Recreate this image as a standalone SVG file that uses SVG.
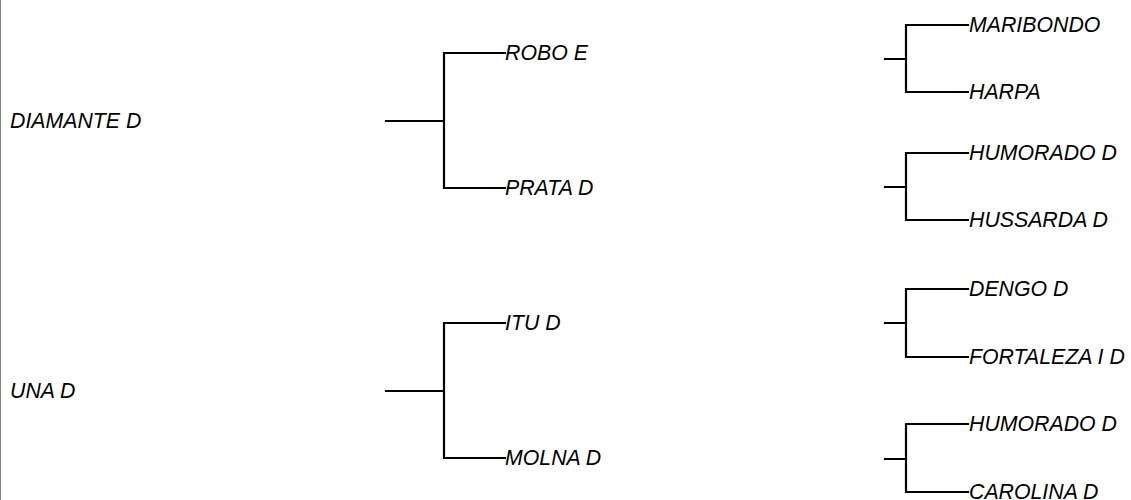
<svg xmlns="http://www.w3.org/2000/svg" width="1131" height="500" viewBox="0 0 1131 500">
<style>
.c{fill:none;stroke:#000;stroke-width:2.2;stroke-linecap:square}
.t{font-family:"Liberation Sans",Arial,sans-serif;font-style:italic;font-size:21.3px;fill:#000}
</style>
<rect x="0" y="0" width="1131" height="500" fill="#fff"/>
<line x1="0.5" y1="0" x2="0.5" y2="500" stroke="#808080" stroke-width="1"/>
<g id="connectors">
<path class="c" d="M386 121H444M444 53V188M444 53H505M444 188H505"/>
<path class="c" d="M386 391H444M444 323V458M444 323H505M444 458H505"/>
<path class="c" d="M885 59H906M906 25V92M906 25H968M906 92H968"/>
<path class="c" d="M885 187H906M906 153V220M906 153H968M906 220H968"/>
<path class="c" d="M885 323H906M906 289V357M906 289H968M906 357H968"/>
<path class="c" d="M885 459H906M906 424V492M906 424H968M906 492H968"/>
</g>
<g id="n-diamante"><text class="t" x="10" y="128">DIAMANTE D</text></g>
<g id="n-una"><text class="t" x="10" y="398">UNA D</text></g>
<g id="n-robo"><text class="t" x="505" y="60">ROBO E</text></g>
<g id="n-prata"><text class="t" x="505" y="195">PRATA D</text></g>
<g id="n-itu"><text class="t" x="505" y="330">ITU D</text></g>
<g id="n-molna"><text class="t" x="505" y="465">MOLNA D</text></g>
<g id="n-maribondo"><text class="t" x="969" y="32">MARIBONDO</text></g>
<g id="n-harpa"><text class="t" x="969" y="99">HARPA</text></g>
<g id="n-humorado1"><text class="t" x="969" y="160">HUMORADO D</text></g>
<g id="n-hussarda"><text class="t" x="969" y="227">HUSSARDA D</text></g>
<g id="n-dengo"><text class="t" x="969" y="296">DENGO D</text></g>
<g id="n-fortaleza"><text class="t" x="969" y="364">FORTALEZA I D</text></g>
<g id="n-humorado2"><text class="t" x="969" y="431">HUMORADO D</text></g>
<g id="n-carolina"><text class="t" x="969" y="499">CAROLINA D</text></g>
</svg>
